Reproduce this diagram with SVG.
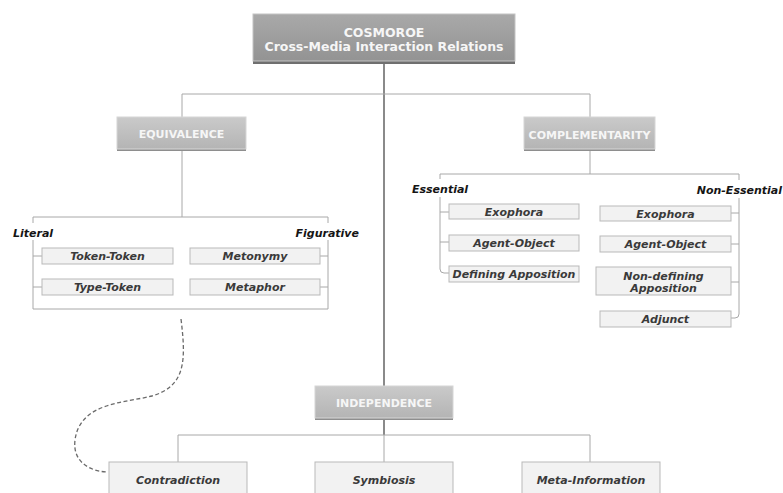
<svg xmlns="http://www.w3.org/2000/svg" width="783" height="493" viewBox="0 0 783 493">
<defs>
<linearGradient id="gTop" x1="0" y1="0" x2="0" y2="1">
<stop offset="0" stop-color="#a9a9a9"/><stop offset="1" stop-color="#939393"/>
</linearGradient>
<linearGradient id="gHead" x1="0" y1="0" x2="0" y2="1">
<stop offset="0" stop-color="#cacaca"/><stop offset="1" stop-color="#b4b4b4"/>
</linearGradient>
</defs>
<style>
.head text{font-family:"DejaVu Sans",Verdana,sans-serif;font-weight:bold;fill:#f6f6f6;text-anchor:middle}
.node rect{fill:#f2f2f2;stroke:#b9b9b9;stroke-width:1}
.node text,.lbl{font-family:"DejaVu Sans",Verdana,sans-serif;font-weight:bold;font-style:italic;font-size:11px}
.node text{fill:#3a3a3a;text-anchor:middle}
.lbl{fill:#151515}
.ln{fill:none;stroke:#a8a8a8;stroke-width:1}
.dk{fill:none;stroke:#3c3c3c;stroke-width:1.2}
</style>

<g id="connectors">
<path class="dk" d="M384,64 V386"/>
<path class="ln" d="M182,117 V94 H590 V117"/>
<path class="ln" d="M182,151 V217"/>
<path class="ln" d="M33,223 V217 H328 V223"/>
<path class="ln" d="M33,240 V309 H328 V240"/>
<path class="ln" d="M33,256 H42 M33,287 H42 M320,256 H328 M320,287 H328"/>
<path class="ln" d="M590,151 V174"/>
<path class="ln" d="M440,179 V174 H739 V180"/>
<path class="ln" d="M440,197 V269 Q440,273 444,273 H449 M440,212 H449 M440,242 H449"/>
<path class="ln" d="M739,198 V314 Q739,318 735,318 H731 M731,213 H739 M731,244 H739 M731,282 H739"/>
<path class="dk" d="M384,420 V435"/>
<path class="ln" d="M178,462 V435 H590 V462 M384,435 V462"/>
<path fill="none" stroke="#6a6a6a" stroke-width="1.3" stroke-dasharray="4,2.5" d="M181,319 C186,360 186,386 152,396 C125,403 80,402 75,440 C72,465 95,472 108,472"/>
</g>

<g id="cosmoroe" class="head">
<rect x="253" y="14" width="262" height="50" fill="#6f6f6f"/>
<rect x="253" y="14" width="262" height="47" fill="url(#gTop)" stroke="#c4c4c4" stroke-width="1"/>
<text x="384" y="37" font-size="12.5">COSMOROE</text>
<text x="384" y="51" font-size="12.5">Cross-Media Interaction Relations</text>
</g>

<g id="equivalence" class="head">
<rect x="117" y="117" width="129" height="34" fill="#8e8e8e"/>
<rect x="117" y="117" width="129" height="32" fill="url(#gHead)" stroke="#d6d6d6" stroke-width="1"/>
<text x="181.5" y="138" font-size="11">EQUIVALENCE</text>
</g>

<g id="complementarity" class="head">
<rect x="524" y="117" width="131" height="34" fill="#8e8e8e"/>
<rect x="524" y="117" width="131" height="32" fill="url(#gHead)" stroke="#d6d6d6" stroke-width="1"/>
<text x="589.5" y="139" font-size="11">COMPLEMENTARITY</text>
</g>

<g id="independence" class="head">
<rect x="315" y="386" width="138" height="34" fill="#8e8e8e"/>
<rect x="315" y="386" width="138" height="32" fill="url(#gHead)" stroke="#d6d6d6" stroke-width="1"/>
<text x="384" y="407" font-size="11">INDEPENDENCE</text>
</g>

<text class="lbl" x="13" y="237">Literal</text>
<text class="lbl" x="359" y="237" text-anchor="end">Figurative</text>
<text class="lbl" x="412" y="193">Essential</text>
<text class="lbl" x="782" y="194" text-anchor="end">Non-Essential</text>

<g id="token-token" class="node"><rect x="42" y="248" width="131" height="16"/><text x="107.5" y="260">Token-Token</text></g>
<g id="type-token" class="node"><rect x="42" y="279" width="131" height="16"/><text x="107.5" y="291">Type-Token</text></g>
<g id="metonymy" class="node"><rect x="190" y="248" width="130" height="16"/><text x="255" y="260">Metonymy</text></g>
<g id="metaphor" class="node"><rect x="190" y="279" width="130" height="16"/><text x="255" y="291">Metaphor</text></g>

<g id="ess-exophora" class="node"><rect x="449" y="204" width="130" height="15"/><text x="514" y="215.5">Exophora</text></g>
<g id="ess-agent-object" class="node"><rect x="449" y="235" width="130" height="16"/><text x="514" y="247">Agent-Object</text></g>
<g id="defining-apposition" class="node"><rect x="449" y="266" width="130" height="16"/><text x="514" y="278">Defining Apposition</text></g>

<g id="ne-exophora" class="node"><rect x="600" y="206" width="131" height="15"/><text x="665.5" y="217.5">Exophora</text></g>
<g id="ne-agent-object" class="node"><rect x="600" y="236" width="131" height="16"/><text x="665.5" y="248">Agent-Object</text></g>
<g id="non-defining-apposition" class="node"><rect x="596" y="267" width="135" height="28"/><text x="663.5" y="280">Non-defining</text><text x="663.5" y="291.5">Apposition</text></g>
<g id="adjunct" class="node"><rect x="600" y="311" width="131" height="16"/><text x="665.5" y="323">Adjunct</text></g>

<g id="contradiction" class="node"><rect x="109" y="462" width="138" height="40"/><text x="178" y="484">Contradiction</text></g>
<g id="symbiosis" class="node"><rect x="315" y="462" width="138" height="40"/><text x="384" y="484">Symbiosis</text></g>
<g id="meta-information" class="node"><rect x="522" y="462" width="138" height="40"/><text x="591" y="484">Meta-Information</text></g>
</svg>
